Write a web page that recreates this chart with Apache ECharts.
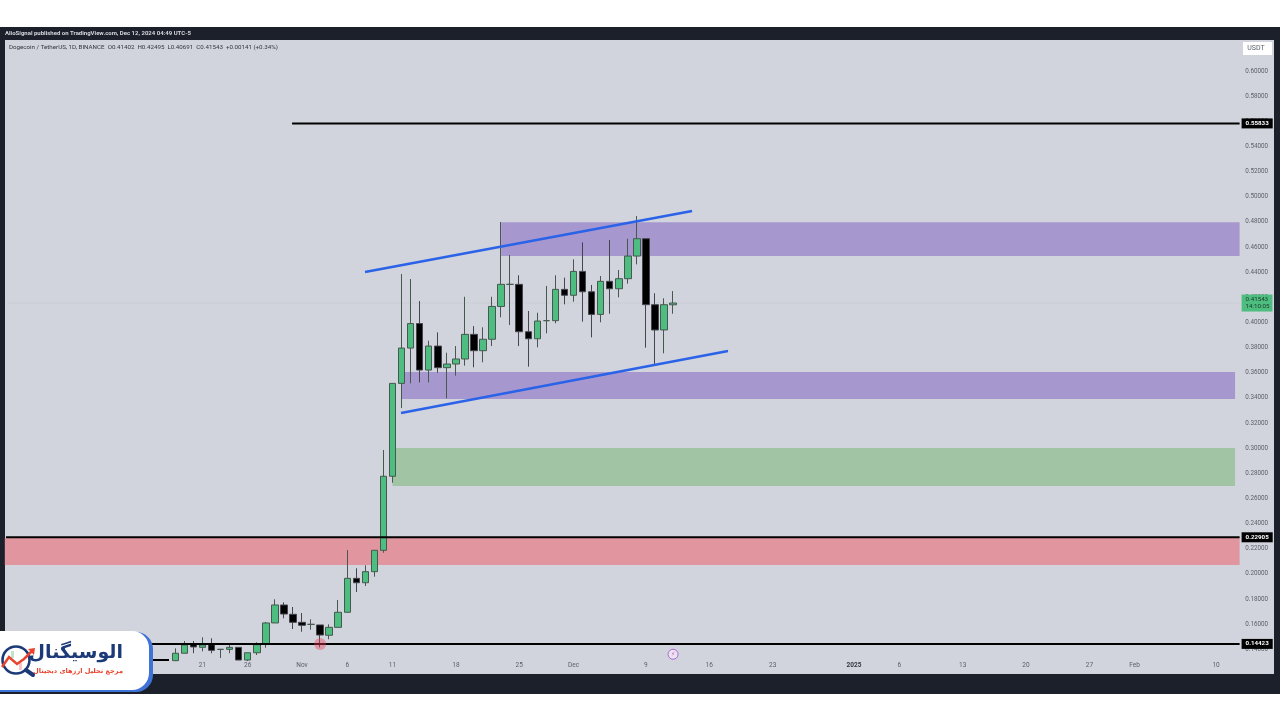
<!DOCTYPE html>
<html>
<head>
<meta charset="utf-8">
<style>
  html, body { margin: 0; padding: 0; background: #fff; }
  #chart { width: 1280px; height: 720px; }
</style>
<script src="https://cdn.jsdelivr.net/npm/echarts@6/dist/echarts.min.js"></script>
</head>
<body>
<div id="chart"></div>
<script>
// daily candles, Oct 18 -> Dec 12 2024: [open, close, low, high]
const candleStart = '2024-10-18';
const candles = [
  [0.1309, 0.1368, 0.1306, 0.1407],
  [0.1368, 0.1434, 0.1368, 0.1465],
  [0.1442, 0.1418, 0.1368, 0.1465],
  [0.1415, 0.1434, 0.1383, 0.1495],
  [0.1436, 0.1391, 0.1368, 0.1487],
  [0.1399, 0.1399, 0.1330, 0.1399],
  [0.1399, 0.1415, 0.1368, 0.1434],
  [0.1415, 0.1314, 0.1314, 0.1415],
  [0.1314, 0.1372, 0.1306, 0.1372],
  [0.1372, 0.1436, 0.1354, 0.1455],
  [0.1442, 0.1609, 0.1412, 0.1617],
  [0.1609, 0.1752, 0.1609, 0.1797],
  [0.1752, 0.1680, 0.1646, 0.1773],
  [0.1678, 0.1614, 0.1561, 0.1736],
  [0.1614, 0.1590, 0.1539, 0.1688],
  [0.1598, 0.1598, 0.1555, 0.1638],
  [0.1593, 0.1513, 0.1415, 0.1593],
  [0.1511, 0.1574, 0.1479, 0.1598],
  [0.1574, 0.1694, 0.1574, 0.1792],
  [0.1694, 0.1964, 0.1691, 0.2189],
  [0.1964, 0.1929, 0.1855, 0.2044],
  [0.1929, 0.2017, 0.1903, 0.2068],
  [0.2017, 0.2187, 0.1977, 0.2187],
  [0.2187, 0.2776, 0.2168, 0.2985],
  [0.2776, 0.3515, 0.2725, 0.3515],
  [0.3515, 0.3796, 0.3319, 0.4385],
  [0.3796, 0.3991, 0.3515, 0.4345],
  [0.3991, 0.3621, 0.3523, 0.4170],
  [0.3621, 0.3812, 0.3523, 0.3854],
  [0.3812, 0.3640, 0.3600, 0.3921],
  [0.3640, 0.3669, 0.3396, 0.3759],
  [0.3669, 0.3709, 0.3576, 0.3812],
  [0.3709, 0.3905, 0.3656, 0.4204],
  [0.3905, 0.3775, 0.3643, 0.3971],
  [0.3775, 0.3866, 0.3683, 0.3961],
  [0.3866, 0.4127, 0.3812, 0.4204],
  [0.4127, 0.4303, 0.4041, 0.4799],
  [0.4303, 0.4303, 0.3979, 0.4536],
  [0.4303, 0.3926, 0.3812, 0.4375],
  [0.3926, 0.3870, 0.3648, 0.4091],
  [0.3870, 0.4011, 0.3802, 0.4077],
  [0.4014, 0.4014, 0.3913, 0.4290],
  [0.4014, 0.4263, 0.3993, 0.4375],
  [0.4263, 0.4216, 0.4144, 0.4356],
  [0.4216, 0.4406, 0.4165, 0.4502],
  [0.4406, 0.4244, 0.4006, 0.4637],
  [0.4244, 0.4064, 0.3881, 0.4298],
  [0.4064, 0.4327, 0.4001, 0.4369],
  [0.4327, 0.4268, 0.4069, 0.4656],
  [0.4268, 0.4348, 0.4200, 0.4417],
  [0.4348, 0.4528, 0.4308, 0.4666],
  [0.4528, 0.4666, 0.4462, 0.4846],
  [0.4666, 0.4141, 0.3799, 0.4666],
  [0.4141, 0.3940, 0.3661, 0.4232],
  [0.3940, 0.4141, 0.3754, 0.4192],
  [0.41402, 0.41543, 0.40691, 0.42495]
];

const firstDay = '2024-09-30';
const dayCount = 136;

const tickDates = ['2024-10-21', '2024-10-26', '2024-11-01', '2024-11-06', '2024-11-11', '2024-11-18', '2024-11-25',
  '2024-12-01', '2024-12-09', '2024-12-16', '2024-12-23', '2025-01-01', '2025-01-06', '2025-01-13', '2025-01-20',
  '2025-01-27', '2025-02-01', '2025-02-10'];
const tickLabels = ['21', '26', 'Nov', '6', '11', '18', '25', 'Dec', '9', '16', '23', '2025', '6', '13', '20', '27', 'Feb', '10'];
const priceTicks = [0.14, 0.16, 0.18, 0.20, 0.22, 0.24, 0.26, 0.28, 0.30, 0.32, 0.34, 0.36, 0.38, 0.40, 0.42, 0.44,
  0.46, 0.48, 0.50, 0.52, 0.54, 0.56, 0.58, 0.60];

// x values below are day numbers counted from firstDay
// zones: [startDay, endDay, top price, bottom price]
const purpleHigh = [54, 135.6, 0.4796, 0.4528];
const purpleLow = [43, 135.1, 0.3605, 0.3390];
const greenZone = [42, 135.1, 0.3001, 0.2698];
const redZone = [-0.84, 135.6, 0.2285, 0.2070];

// levels: [startDay, endDay, price]
const levelTop = [30.9, 135.6, 0.55833];
const levelMid = [-0.84, 135.6, 0.22905];
const levelLow = [-0.84, 135.6, 0.14423];
const levelShort = [12, 17.3, 0.1314];
const lastPriceLine = [-0.5, 135.6, 0.41543];

const channelUpper = [[38.96, 0.4401], [75.1, 0.4886]];
const channelLower = [[42.94, 0.3279], [79.07, 0.3773]];

const markerDays = ['2024-11-03'];
const eventDays = ['2024-12-12'];

function dayName(i) {
  const d = new Date(Date.parse(firstDay) + i * 864e5);
  return d.toISOString().slice(0, 10);
}
const categories = [];
for (let i = 0; i < dayCount; i++) categories.push(dayName(i));

const startIndex = categories.indexOf(candleStart);
const candleData = categories.map(function (c, i) {
  const v = candles[i - startIndex];
  return v ? v : '-';
});

function zoneSeries(zone, color) {
  return {
    type: 'custom',
    xAxisIndex: 1,
    silent: true,
    z: 1,
    clip: false,
    data: [zone],
    encode: { x: [0, 1], y: [2, 3] },
    renderItem: function (params, api) {
      const a = api.coord([api.value(0), api.value(2)]);
      const b = api.coord([api.value(1), api.value(3)]);
      return { type: 'rect', shape: { x: a[0], y: a[1], width: b[0] - a[0], height: b[1] - a[1] }, style: { fill: color } };
    }
  };
}

function levelSeries(level, tag) {
  return {
    type: 'line',
    xAxisIndex: 1,
    showSymbol: false,
    silent: true,
    clip: false,
    z: 4,
    lineStyle: { color: '#000', width: 2 },
    data: [[level[0], level[2]], [level[1], level[2]]],
    endLabel: tag ? {
      show: true,
      distance: 2,
      formatter: tag,
      color: '#fff',
      backgroundColor: '#000',
      fontFamily: 'Roboto',
      fontWeight: 'bold',
      fontSize: 6.2,
      padding: [2, 4, 2, 4]
    } : { show: false }
  };
}

function channelSeries(points) {
  return {
    type: 'line',
    xAxisIndex: 1,
    showSymbol: false,
    silent: true,
    z: 5,
    lineStyle: { color: '#2a62e8', width: 2.5 },
    data: points
  };
}

const chart = echarts.init(document.getElementById('chart'), null, { renderer: 'canvas' });
chart.setOption({
  animation: false,
  textStyle: { fontFamily: 'Roboto' },
  title: [
    { text: 'AlioSignal published on TradingView.com, Dec 12, 2024 04:49 UTC-5', left: 5, top: 30, padding: 0,
      textStyle: { color: '#d5d7dd', fontSize: 6, fontWeight: 'bold' } },
    { text: 'Dogecoin / TetherUS, 1D, BINANCE  O0.41402  H0.42495  L0.40691  C0.41543  +0.00141 (+0.34%)', left: 9, top: 44, padding: 0,
      textStyle: { color: '#33363f', fontSize: 6.2, fontWeight: 'normal' } }
  ],
  grid: { left: 7.9, right: 41.3, top: 45.9, bottom: 45.64 },
  xAxis: [
    {
      type: 'category',
      data: categories,
      axisLine: { show: false },
      axisTick: { show: false },
      splitLine: { show: false },
      axisLabel: {
        inside: true,
        margin: 5,
        color: '#5d606b',
        fontSize: 6.5,
        interval: function (i, value) { return tickDates.indexOf(value) >= 0; },
        formatter: function (value) {
          const label = tickLabels[tickDates.indexOf(value)];
          return label === '2025' ? '{b|2025}' : label;
        },
        rich: { b: { fontWeight: 'bold', fontSize: 6.5, color: '#33363f' } }
      }
    },
    { type: 'value', show: false, min: -0.5, max: dayCount - 0.5, splitLine: { show: false } }
  ],
  yAxis: {
    type: 'value',
    position: 'right',
    min: 0.12,
    max: 0.62,
    axisLine: { show: false },
    axisTick: { show: false },
    splitLine: { show: false },
    axisLabel: {
      customValues: priceTicks,
      margin: 6.5,
      color: '#5d606b',
      fontSize: 6.3,
      formatter: function (v) { return v.toFixed(5); }
    }
  },
  series: [
    zoneSeries(purpleHigh, '#a698cf'),
    zoneSeries(purpleLow, '#a698cf'),
    zoneSeries(greenZone, '#a0c4a4'),
    zoneSeries(redZone, '#e0959f'),
    Object.assign(levelSeries(lastPriceLine), {
      lineStyle: { color: '#c2c5cc', width: 1, type: 'dotted' },
      z: 1.5,
      endLabel: {
        show: true,
        distance: 2,
        formatter: '0.41543\n14:10:05',
        color: '#1d3a2a',
        backgroundColor: '#4dbd80',
        fontSize: 6.2,
        lineHeight: 7.5,
        align: 'left',
        padding: [1, 3, 1, 4]
      }
    }),
    {
      type: 'candlestick',
      data: candleData,
      barWidth: 7,
      clip: false,
      z: 3,
      itemStyle: {
        color: '#4dbd80',
        color0: '#000',
        borderColor: '#46584f',
        borderColor0: '#45464d',
        borderWidth: 1
      }
    },
    levelSeries(levelTop, '0.55833'),
    levelSeries(levelMid, '0.22905'),
    levelSeries(levelLow, '0.14423'),
    levelSeries(levelShort),
    channelSeries(channelUpper),
    channelSeries(channelLower),
    {
      type: 'scatter',
      clip: false,
      silent: true,
      z: 6,
      symbolSize: 12,
      itemStyle: { color: 'rgba(240,60,85,0.5)' },
      data: markerDays.map(function (d) { return [d, 0.14423]; })
    },
    {
      type: 'scatter',
      clip: false,
      silent: true,
      z: 6,
      symbolSize: 10,
      itemStyle: { color: '#eceaf2', borderColor: '#a64bd0', borderWidth: 1 },
      label: { show: true, formatter: '⚡', color: '#c23aa8', fontSize: 6, fontFamily: 'DejaVu Sans', position: 'inside' },
      data: eventDays.map(function (d) { return [d, 0.1360]; })
    }
  ],
  graphic: [
    // frame and panel
    { type: 'rect', z: -10, shape: { x: 0, y: 27, width: 1280, height: 667 }, style: { fill: '#1c202b' } },
    { type: 'rect', z: -9, shape: { x: 5, y: 40, width: 1269, height: 634 }, style: { fill: '#d1d4dc' } },
    // price axis unit box
    { type: 'rect', z: 8, shape: { x: 1243, y: 42, width: 29, height: 13 }, style: { fill: '#fff' } },
    { type: 'text', z: 9, x: 1256, y: 48.5, style: { text: 'USDT', fill: '#5d606b', font: '7px Roboto', textAlign: 'center', textVerticalAlign: 'middle' } },
    // logo card
    { type: 'rect', z: 20, shape: { x: -20, y: 632, width: 173, height: 60, r: 17 }, style: { fill: '#3f73d8' } },
    { type: 'rect', z: 21, shape: { x: -20, y: 631, width: 169, height: 59, r: 17 }, style: { fill: '#fff' } },
    { type: 'text', z: 22, x: 123, y: 653, style: { text: 'الوسیگنال', fill: '#1d3a78', font: 'bold 19px "DejaVu Sans"', textAlign: 'right', textVerticalAlign: 'middle' } },
    { type: 'text', z: 22, x: 123, y: 671, style: { text: 'مرجع تحلیل ارزهای دیجیتال', fill: '#e8442e', font: 'bold 6.6px "DejaVu Sans"', textAlign: 'right', textVerticalAlign: 'middle' } },
    { type: 'rect', z: 22, shape: { x: 11, y: 651, width: 3, height: 7 }, style: { fill: '#bfe3cd' } },
    { type: 'rect', z: 22, shape: { x: 19, y: 663, width: 3, height: 7 }, style: { fill: '#f3c7c7' } },
    { type: 'circle', z: 22, shape: { cx: 16, cy: 660, r: 13.5 }, style: { fill: 'none', stroke: '#1d3a78', lineWidth: 2.6 } },
    { type: 'line', z: 22, shape: { x1: 26, y1: 670, x2: 33, y2: 675 }, style: { stroke: '#1d3a78', lineWidth: 4, lineCap: 'round' } },
    { type: 'polyline', z: 23, shape: { points: [[2, 667], [9, 657], [17, 664], [24, 659], [33, 650]] }, style: { fill: 'none', stroke: '#e8442e', lineWidth: 2.5 } },
    { type: 'polygon', z: 23, shape: { points: [[28, 649], [35, 648], [34, 655]] }, style: { fill: '#e8442e' } }
  ]
});
</script>
</body>
</html>
